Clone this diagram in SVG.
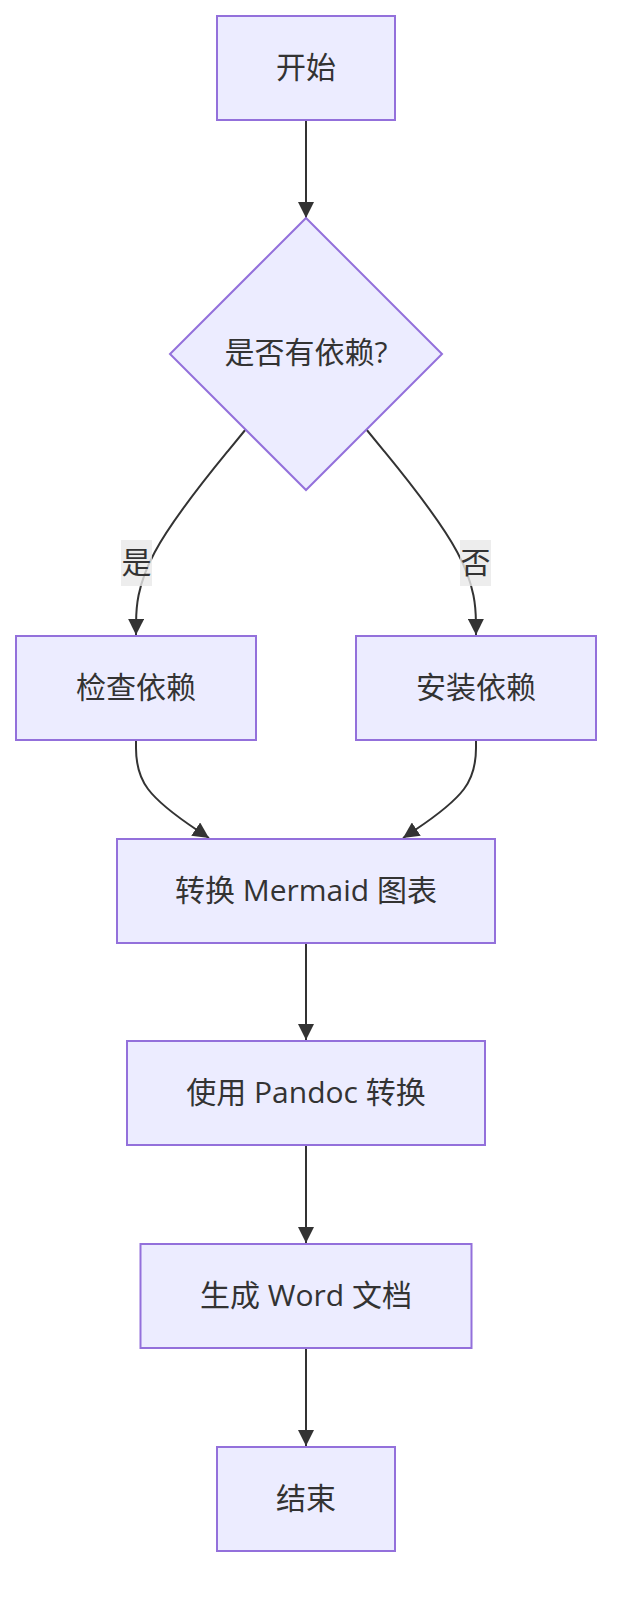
<svg xmlns="http://www.w3.org/2000/svg" width="628" height="1608" viewBox="0 0 628 1608">
<style>
  .node rect, .node polygon { fill: #ECECFF; stroke: #9370DB; stroke-width: 2; }
  .label { font-family: "Open Sans", "Noto Sans CJK SC", sans-serif; font-size: 30px; fill: #333333; text-anchor: middle; }
  .edge { fill: none; stroke: #333333; stroke-width: 2; }
  .elbg { fill: #e8e8e8; opacity: 0.8; }
</style>
<defs>
  <marker id="arrow" viewBox="0 0 10 10" refX="10" refY="5" markerUnits="userSpaceOnUse" markerWidth="16" markerHeight="16" orient="auto">
    <path d="M0,0 L10,5 L0,10 z" fill="#333333"/>
  </marker>
</defs>
<rect width="628" height="1608" fill="#ffffff"/>
<g id="connectors">
  <path class="edge" d="M306,121 L306,218" marker-end="url(#arrow)"/>
  <path class="edge" d="M246,429 L227.7,451.3 C209.5,473.5 173,518 154.7,552.2 C136.3,586.3 136.2,610.2 136.1,622.1 L136,635" marker-end="url(#arrow)"/>
  <path class="edge" d="M366,429 L384.3,451.3 C402.5,473.5 439,518 457.3,552.2 C475.7,586.3 475.8,610.2 475.9,622.1 L476,635" marker-end="url(#arrow)"/>
  <path class="edge" d="M136,741 L136,748 C136,756 136,773 148,789 C160,805 185,822 197,830 L209,838" marker-end="url(#arrow)"/>
  <path class="edge" d="M476,741 L476,748 C476,756 476,773 464,789 C452,805 427,822 415,830 L403,838" marker-end="url(#arrow)"/>
  <path class="edge" d="M306,944 L306,1040" marker-end="url(#arrow)"/>
  <path class="edge" d="M306,1146 L306,1243" marker-end="url(#arrow)"/>
  <path class="edge" d="M306,1349 L306,1446" marker-end="url(#arrow)"/>
  <g id="edge-label-yes">
    <rect class="elbg" x="121" y="540" width="31" height="46"/>
    <text class="label" x="136.5" y="572.5">是</text>
  </g>
  <g id="edge-label-no">
    <rect class="elbg" x="460" y="540" width="31" height="46"/>
    <text class="label" x="475.5" y="572.5">否</text>
  </g>
</g>
<g id="node-start" class="node">
  <rect x="217" y="16" width="178" height="104"/>
  <text class="label" x="306" y="78">开始</text>
</g>
<g id="node-decision" class="node">
  <polygon points="306,218 442,354 306,490 170,354"/>
  <text class="label" x="306" y="363">是否有依赖?</text>
</g>
<g id="node-check" class="node">
  <rect x="16" y="636" width="240" height="104"/>
  <text class="label" x="136" y="698">检查依赖</text>
</g>
<g id="node-install" class="node">
  <rect x="356" y="636" width="240" height="104"/>
  <text class="label" x="476" y="698">安装依赖</text>
</g>
<g id="node-mermaid" class="node">
  <rect x="117" y="839" width="378" height="104"/>
  <text class="label" x="306" y="901">转换 Mermaid 图表</text>
</g>
<g id="node-pandoc" class="node">
  <rect x="127" y="1041" width="358" height="104"/>
  <text class="label" x="306" y="1103">使用 Pandoc 转换</text>
</g>
<g id="node-word" class="node">
  <rect x="140.5" y="1244" width="331" height="104"/>
  <text class="label" x="306" y="1306">生成 Word 文档</text>
</g>
<g id="node-end" class="node">
  <rect x="217" y="1447" width="178" height="104"/>
  <text class="label" x="306" y="1509">结束</text>
</g>
</svg>
